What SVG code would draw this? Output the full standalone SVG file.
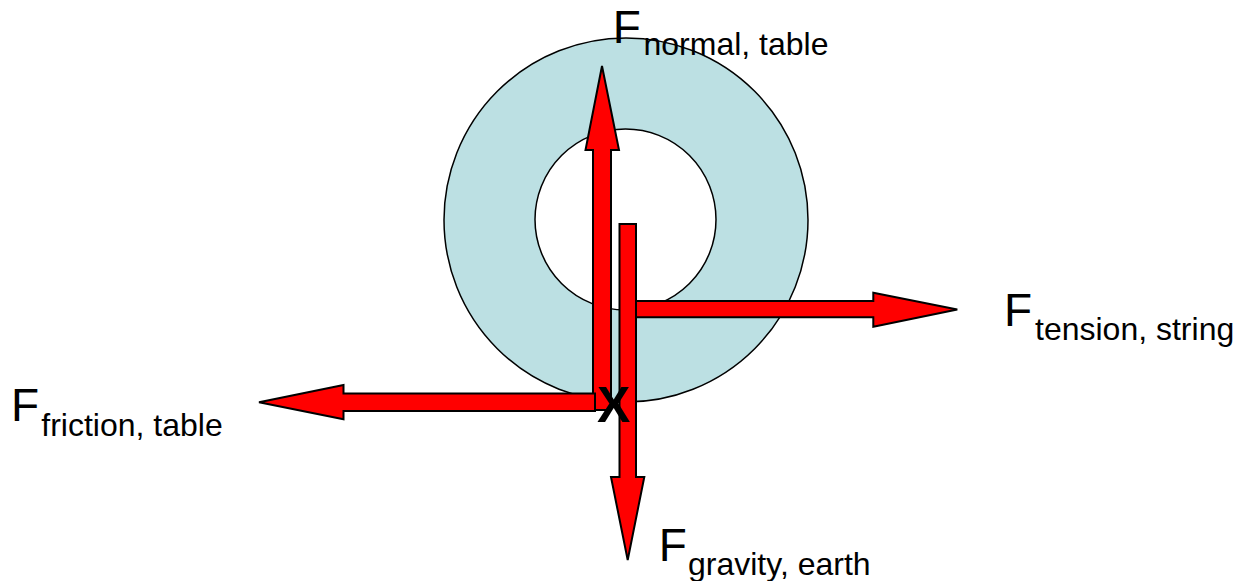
<svg xmlns="http://www.w3.org/2000/svg" width="1236" height="581" viewBox="0 0 1236 581">
<style>
.arrow{fill:#FF0000;stroke:#000;stroke-width:2;stroke-linejoin:miter}
.big{font-family:"Liberation Sans",Arial,sans-serif;font-size:46px;fill:#000}
.sub{font-family:"Liberation Sans",Arial,sans-serif;font-size:32px;fill:#000}
.mark{font-family:"Liberation Sans",Arial,sans-serif;font-size:50px;font-weight:bold;fill:#000}
</style>
<rect width="1236" height="581" fill="#fff"/>
<g id="ring">
<path d="M444,220 A182,182 0 1,0 808,220 A182,182 0 1,0 444,220 Z M535,219.5 A90.5,90.5 0 1,1 716,219.5 A90.5,90.5 0 1,1 535,219.5 Z" fill="#BCE0E3" fill-rule="evenodd" stroke="#000" stroke-width="1.5"/>
</g>
<g id="connectors">
<polygon id="normal-arrow" class="arrow" points="593,410 593,150 585.5,150 602,66 619,150 611,150 611,410"/>
<polygon id="friction-arrow" class="arrow" points="595,393.5 343.5,393.5 343.5,385 259,402.3 343.5,419.3 343.5,411 595,411"/>
<polygon id="gravity-arrow" class="arrow" points="619.5,224 636,224 636,477 644.3,477 627.7,560 611,477 619.5,477"/>
<polygon id="tension-arrow" class="arrow" points="636,301 873.3,301 873.3,292.7 957.3,309.5 873.3,326.7 873.3,317.3 636,317.3"/>
</g>
<g id="point">
<text class="mark" x="597" y="421.5">X</text>
</g>
<g id="label-normal">
<text class="big" x="612.7" y="42.7">F</text>
<text class="sub" x="643.5" y="55">normal, table</text>
</g>
<g id="label-tension">
<text class="big" x="1004" y="326">F</text>
<text class="sub" x="1035" y="340">tension, string</text>
</g>
<g id="label-friction">
<text class="big" x="11" y="420.7">F</text>
<text class="sub" x="41.3" y="435.5">friction, table</text>
</g>
<g id="label-gravity">
<text class="big" x="658.7" y="560.7">F</text>
<text class="sub" x="688" y="575">gravity, earth</text>
</g>
</svg>
